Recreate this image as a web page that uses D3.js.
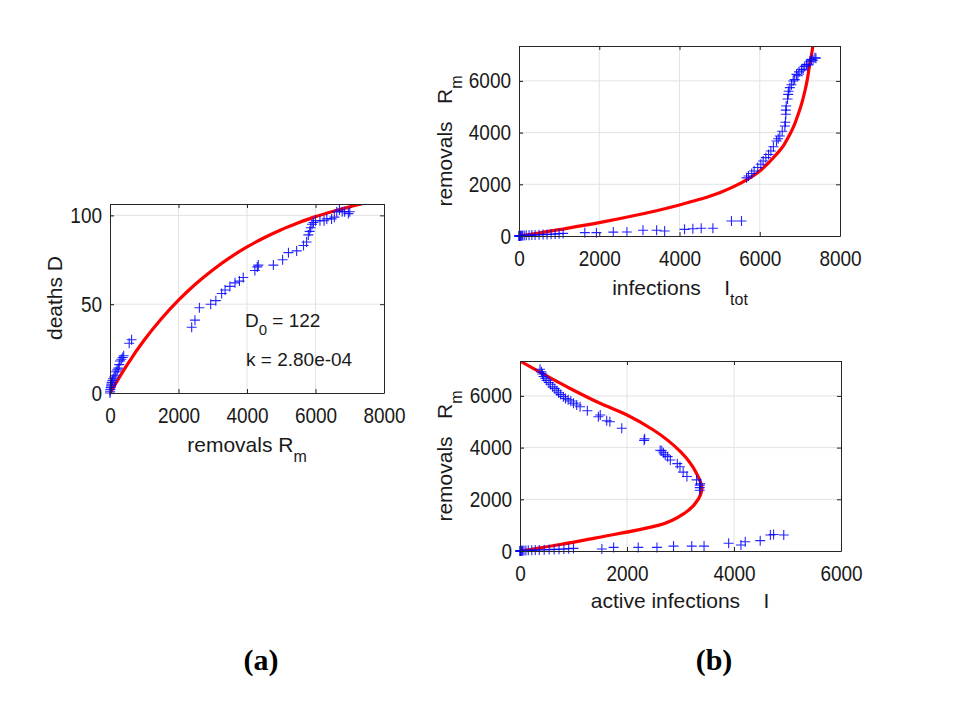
<!DOCTYPE html>
<html>
<head>
<meta charset="utf-8">
<script src="https://d3js.org/d3.v7.min.js"></script>
<style>
  body { margin: 0; background: #fff; }
  svg { display: block; }
</style>
</head>
<body>
<script>

// ---- panel (a): deaths vs removals ----
var remA   = [0,5,10,20,30,40,50,70,90,120,150,175,210,243,270,292,330,370,400,560,630,
              2385,2480,2610,2940,3090,3260,3360,3500,3650,3780,3890,4230,4300,4330,4770,5040,5210,5450,
              5650,5740,5790,5830,5860,5900,5940,6000,6130,6250,6330,6470,6550,6620,6700,6780,6850,6960,7000];
var deathA = [0,1,2,3,4,5,6,7,8,9,10,12,13,14,16,18,19,20,21,28,30,
              37,41,48,50,52,56,58,60,62,63,65,69,71,72,72,75,79,80,
              83,85,89,91,93,95,96,97,97,97,98,98,99,102,103,102,102,101,102];
var fitRemA   = [0,500,1000,1500,2000,2500,3000,3500,4000,4500,5000,5500,6000,6500,7000,7350];
var fitDeathA = [0,15.9,29.8,41.8,52.3,61.4,69.3,76.2,82.2,87.4,91.9,95.8,99.3,102.2,104.8,106.4];

// ---- panel (b) top: removals vs total infections ----
var itotB = [1,3,8,15,25,40,60,90,130,180,250,320,400,500,600,700,800,900,1000,1100,
             1640,1930,2350,2690,3090,3430,3630,4125,4333,4541,4832,5295,5545,
             5671,5719,5800,5860,5950,6027,6085,6152,6220,6277,6340,6417,6460,6500,6560,6625,6640,
             6650,6650,6660,6693,6708,6720,6750,6790,6833,6870,6916,6950,6980,7041,7080,7120,
             7166,7200,7250,7290,7330,7374,7400];
var remB  = [0,1,2,4,6,9,12,16,20,25,30,35,40,48,55,62,70,80,90,100,
             130,130,150,155,220,220,193,258,280,300,300,580,580,
             2250,2321,2420,2515,2650,2773,2900,3030,3150,3289,3450,3676,3760,3870,4050,4257,4400,
             4708,4870,5030,5300,5480,5600,5738,5850,5996,6050,6254,6200,6350,6447,6420,6560,
             6641,6620,6760,6834,6800,6898,6880];
var fitItotB = [0,500,1000,2000,3000,3504,4000,4501,5000,5499,6000,6417,6600,6750,6870,6958,7050,7125,7185,7232,7280,7317,7345];
var fitRemB  = [0,115,245,516,830,1006,1199,1418,1676,2024,2514,3160,3520,3934,4330,4708,5150,5609,6050,6511,6920,7285,7700];

// ---- panel (b) bottom: removals vs active infections ----
var iactC = [1,2,6,11,19,31,48,74,110,155,220,285,360,452,545,638,730,820,910,1000,
             1530,1750,2210,2560,2870,3210,3440,3900,4130,4210,4490,4680,4740,4930,
             3360,3360,3360,3370,3300,3120,3050,2990,2940,2810,2760,2713,2680,2650,2620,2320,2330,
             1902,1680,1621,1500,1465,1259,1123,1060,1000,950,900,850,810,760,720,690,650,610,570,540,
             500,470,440,420,400,374];
var remC  = [0,1,2,4,6,9,12,16,20,25,30,35,40,48,55,62,70,80,90,100,
             80,140,140,140,190,190,190,300,230,360,400,620,640,620,
             2350,2450,2550,2600,2750,2880,3050,3260,3380,3520,3650,3720,3800,3880,3900,4280,4340,
             4746,5000,5041,5260,5196,5427,5582,5650,5720,5800,5850,5900,5970,6050,6120,6200,6280,6350,6450,6520,
             6600,6680,6750,6850,6930,7029];
var fitIactC = [0,750,1400,2600,3100,3330,3400,3300,3000,2494,2000,1497,873,0];
var fitRemC  = [0,250,500,1000,1500,2000,2425,3000,3840,4681,5261,5713,6357,7350];

// tick values
var ticksAx = [0,2000,4000,6000,8000], ticksAy = [0,50,100];
var ticksBx = [0,2000,4000,6000,8000], ticksBy = [0,2000,4000,6000];
var ticksCx = [0,2000,4000,6000],      ticksCy = [0,2000,4000,6000];

var svg = d3.select("body").append("svg")
    .attr("width", 960)
    .attr("height", 720)
    .style("font-family", "Arial, 'Liberation Sans', sans-serif");

var clipId = 0;

function drawPanel(cfg) {
  var left = cfg.left, top = cfg.top, w = cfg.width, h = cfg.height;
  var x = d3.scaleLinear().domain(cfg.xDomain).range([left, left + w]);
  var y = d3.scaleLinear().domain(cfg.yDomain).range([top + h, top]);
  var g = svg.append("g");

  // grid
  g.selectAll(".gx").data(cfg.xTicks.filter(d => x(d) > left + 1 && x(d) < left + w - 1))
    .enter().append("line")
    .attr("x1", d => x(d)).attr("x2", d => x(d))
    .attr("y1", top).attr("y2", top + h)
    .attr("stroke", "#e3e3e3").attr("stroke-width", 1);
  g.selectAll(".gy").data(cfg.yTicks.filter(d => y(d) > top + 1 && y(d) < top + h - 1))
    .enter().append("line")
    .attr("x1", left).attr("x2", left + w)
    .attr("y1", d => y(d)).attr("y2", d => y(d))
    .attr("stroke", "#e3e3e3").attr("stroke-width", 1);

  // fitted curve, clipped to the axes box
  var id = "clip" + (clipId++);
  svg.append("clipPath").attr("id", id).append("rect")
    .attr("x", left).attr("y", top).attr("width", w).attr("height", h);
  var pts = cfg.fitX.map((d, i) => [d, cfg.fitY[i]]);
  g.append("path")
    .datum(pts)
    .attr("clip-path", "url(#" + id + ")")
    .attr("d", d3.line().x(d => x(d[0])).y(d => y(d[1])).curve(cfg.curve))
    .attr("fill", "none")
    .attr("stroke", "#ff0000")
    .attr("stroke-width", 3.2);

  // data markers
  var data = cfg.dataX.map((d, i) => [d, cfg.dataY[i]]);
  g.selectAll(".mk").data(data).enter().append("path")
    .attr("transform", d => "translate(" + x(d[0]) + "," + y(d[1]) + ")")
    .attr("d", "M-5,0H5M0,-5V5")
    .attr("stroke", "#0000ff")
    .attr("stroke-width", 1.1)
    .attr("opacity", 0.85);

  // axes (ticks inward, box on all sides)
  function styleAxis(sel) {
    sel.selectAll("path.domain").attr("stroke", "#262626").attr("stroke-width", 1);
    sel.selectAll(".tick line").attr("stroke", "#262626");
  }
  var bottom = g.append("g").attr("transform", "translate(0," + (top + h) + ")")
    .call(d3.axisBottom(x).tickValues(cfg.xTicks).tickSizeInner(-4).tickSizeOuter(0).tickFormat(d3.format("d")));
  bottom.selectAll("text")
    .attr("y", 26.5).attr("dy", 0)
    .attr("transform", "scale(1,1.12)")
    .attr("font-size", 19).attr("fill", "#1a1a1a");
  styleAxis(bottom);

  var leftAx = g.append("g").attr("transform", "translate(" + left + ",0)")
    .call(d3.axisLeft(y).tickValues(cfg.yTicks).tickSizeInner(-4).tickSizeOuter(0).tickFormat(d3.format("d")));
  leftAx.selectAll(".tick text")
    .attr("x", -8).attr("dy", "0.33em")
    .attr("font-size", 19).attr("fill", "#1a1a1a");
  leftAx.selectAll(".tick").each(function () {
    var t = d3.select(this);
    var ty = +t.attr("transform").match(/,([-\d.]+)/)[1];
    t.attr("transform", "translate(0," + ty + ") scale(1,1.12)");
  });
  styleAxis(leftAx);

  var topAx = g.append("g").attr("transform", "translate(0," + top + ")")
    .call(d3.axisTop(x).tickValues(cfg.xTicks).tickSizeInner(-4).tickSizeOuter(0).tickFormat(""));
  styleAxis(topAx);
  var rightAx = g.append("g").attr("transform", "translate(" + (left + w) + ",0)")
    .call(d3.axisRight(y).tickValues(cfg.yTicks).tickSizeInner(-4).tickSizeOuter(0).tickFormat(""));
  styleAxis(rightAx);

  return g;
}

function label(parent, x, y, rot, main, sub) {
  var t = parent.append("text")
    .attr("transform", "translate(" + x + "," + y + ")" + (rot ? " rotate(-90)" : ""))
    .attr("text-anchor", "middle")
    .attr("font-size", 21)
    .attr("fill", "#1a1a1a")
    .style("white-space", "pre")
    .text(main);
  if (sub) {
    t.append("tspan").attr("font-size", 16).attr("dy", 10).text(sub);
  }
  return t;
}

// (a)
drawPanel({
  left: 110, top: 204, width: 274, height: 189,
  xDomain: [0, 8000], yDomain: [0, 106.4],
  xTicks: ticksAx, yTicks: ticksAy,
  fitX: fitRemA, fitY: fitDeathA, curve: d3.curveMonotoneX,
  dataX: remA, dataY: deathA
});
label(svg, 62, 298, true, "deaths D");
label(svg, 247, 452, false, "removals R", "m");

var d0 = svg.append("text").attr("x", 245).attr("y", 327).attr("font-size", 19).attr("fill", "#1a1a1a")
  .style("white-space", "pre").text("D");
d0.append("tspan").attr("font-size", 15).attr("dy", 8).text("0");
d0.append("tspan").attr("dy", -8).text(" = 122");
svg.append("text").attr("x", 246).attr("y", 366).attr("font-size", 19).attr("fill", "#1a1a1a")
  .text("k = 2.80e-04");

// (b) top
drawPanel({
  left: 519, top: 46, width: 321, height: 190,
  xDomain: [0, 8000], yDomain: [0, 7350],
  xTicks: ticksBx, yTicks: ticksBy,
  fitX: fitItotB, fitY: fitRemB, curve: d3.curveMonotoneX,
  dataX: itotB, dataY: remB
});
label(svg, 452, 141, true, "removals   R", "m");
label(svg, 680, 295, false, "infections    I", "tot");

// (b) bottom
drawPanel({
  left: 520, top: 361, width: 321, height: 190,
  xDomain: [0, 6000], yDomain: [0, 7350],
  xTicks: ticksCx, yTicks: ticksCy,
  fitX: fitIactC, fitY: fitRemC, curve: d3.curveMonotoneY,
  dataX: iactC, dataY: remC
});
label(svg, 452, 456, true, "removals   R", "m");
label(svg, 680, 608, false, "active infections    I");

// panel letters
svg.append("text").attr("x", 261).attr("y", 670).attr("text-anchor", "middle")
  .attr("font-family", "'Times New Roman', 'Liberation Serif', serif").attr("font-size", 30)
  .attr("font-weight", "bold")
  .text("(a)");
svg.append("text").attr("x", 714).attr("y", 670).attr("text-anchor", "middle")
  .attr("font-family", "'Times New Roman', 'Liberation Serif', serif").attr("font-size", 30)
  .attr("font-weight", "bold")
  .text("(b)");

</script>
</body>
</html>
